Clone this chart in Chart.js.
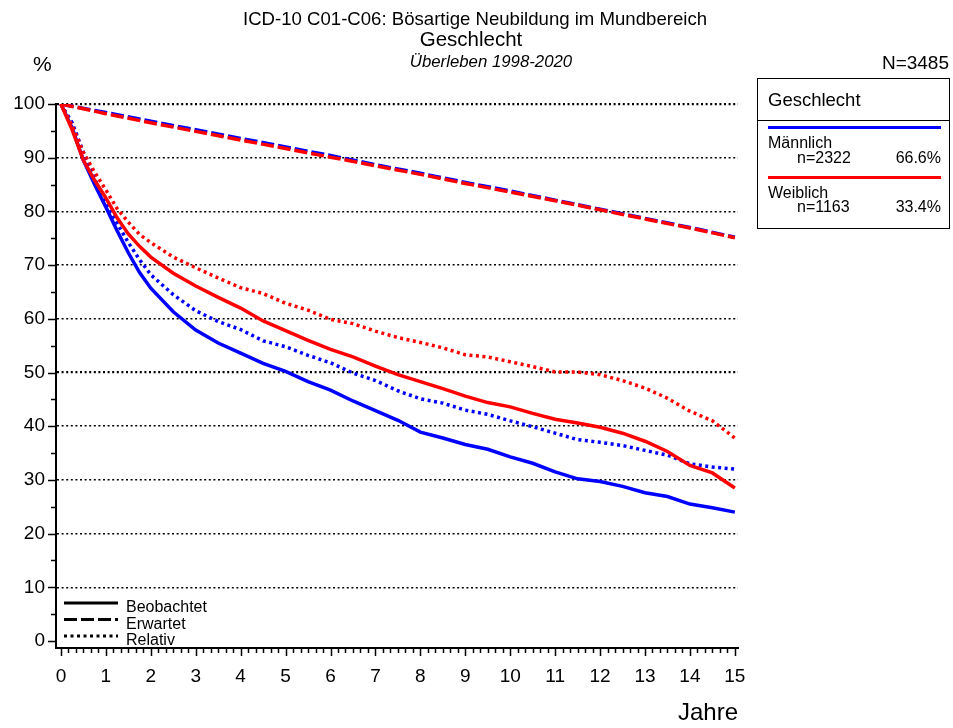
<!DOCTYPE html>
<html>
<head>
<meta charset="utf-8">
<script src="https://cdn.jsdelivr.net/npm/chart.js@4.4.0/dist/chart.umd.min.js"></script>
<style>
    body { margin: 0; background: #fff; font-family: "Liberation Sans", Arial, sans-serif; }
    #wrap { position: relative; width: 953px; height: 728px; }
    canvas { position: absolute; left: 0; top: 0; }
    .t { position: absolute; white-space: nowrap; color: #000; line-height: 1; }
    .c { transform: translateX(-50%); }
    #box { position: absolute; left: 757px; top: 78px; width: 193px; height: 151px; box-sizing: border-box; border: 1.5px solid #000; }
    #box .sep { position: absolute; left: 0; right: 0; top: 41px; border-top: 1.5px solid #000; }
    #box .bar { position: absolute; left: 10px; width: 173px; height: 3px; }
</style>
</head>
<body>
<div id="wrap">
    <canvas id="survivalChart" width="953" height="728"></canvas>

    <div class="t c" style="left:475px; top:10px; font-size:18.6px;">ICD-10 C01-C06: Bösartige Neubildung im Mundbereich</div>
    <div class="t c" style="left:471px; top:29px; font-size:20.5px;">Geschlecht</div>
    <div class="t c" style="left:491px; top:54px; font-size:16.8px; font-style:italic;">Überleben 1998-2020</div>
    <div class="t" style="left:33px; top:53px; font-size:21px;">%</div>
    <div class="t" style="right:4px; top:53px; font-size:19px;">N=3485</div>

    <div class="t" style="left:126px; top:599px; font-size:16px;">Beobachtet</div>
    <div class="t" style="left:126px; top:616px; font-size:16px;">Erwartet</div>
    <div class="t" style="left:126px; top:632px; font-size:16px;">Relativ</div>

    <div id="box">
        <div class="t" style="left:10px; top:12px; font-size:18.5px;">Geschlecht</div>
        <div class="sep"></div>
        <div class="bar" style="top:47px; background:#0000ff;"></div>
        <div class="t" style="left:10px; top:56px; font-size:16px;">Männlich</div>
        <div class="t" style="left:39px; top:71px; font-size:16px;">n=2322</div>
        <div class="t" style="right:8px; top:71px; font-size:16px;">66.6%</div>
        <div class="bar" style="top:97px; background:#ff0000;"></div>
        <div class="t" style="left:10px; top:106px; font-size:16px;">Weiblich</div>
        <div class="t" style="left:39px; top:120px; font-size:16px;">n=1163</div>
        <div class="t" style="right:8px; top:120px; font-size:16px;">33.4%</div>
    </div>
</div>

<script>
// Years since diagnosis (observed / relative curves)
const years = [0, 0.25, 0.5, 0.75, 1, 1.25, 1.5, 1.75, 2, 2.5, 3, 3.5, 4, 4.5, 5, 5.5, 6, 6.5,
               7, 7.5, 8, 8.5, 9, 9.5, 10, 10.5, 11, 11.5, 12, 12.5, 13, 13.5, 14, 14.5, 15];

// Männlich
const maleObserved = [100, 95.5, 89.5, 85, 80.8, 76.4, 72.3, 68.6, 65.7, 61.3, 57.9, 55.5, 53.6, 51.7, 50.2, 48.3, 46.7, 44.7,
                      42.9, 41.1, 38.9, 37.8, 36.6, 35.7, 34.3, 33.1, 31.5, 30.2, 29.7, 28.8, 27.6, 26.9, 25.5, 24.8, 24.0];
const maleRelative = [100, 96.5, 91, 86, 81.7, 77.8, 74.2, 71, 68.2, 64.5, 61.5, 59.5, 58, 55.9, 54.8, 53.2, 51.8, 49.9,
                      48.5, 46.6, 45.1, 44.3, 43, 42.2, 41, 39.9, 38.7, 37.5, 37, 36.4, 35.5, 34.6, 33, 32.4, 32];

// Weiblich
const femaleObserved = [100, 95.2, 89.5, 85.8, 82.5, 78.8, 75.8, 73.5, 71.5, 68.5, 66.1, 64.0, 62.0, 59.6, 57.8, 56.0, 54.3, 52.9,
                        51.2, 49.6, 48.3, 47.0, 45.6, 44.4, 43.6, 42.4, 41.3, 40.6, 39.8, 38.7, 37.2, 35.3, 32.7, 31.3, 28.5];
const femaleRelative = [100, 96, 91, 87.3, 84, 80.5, 78, 75.7, 74.2, 71.5, 69.5, 67.6, 65.8, 64.7, 62.9, 61.6, 59.9, 59.1,
                        57.7, 56.5, 55.6, 54.6, 53.3, 52.9, 52, 51.1, 50.1, 50.1, 49.6, 48.5, 47.1, 45.2, 42.8, 41, 37.8];

// Expected survival, whole years
const expectedYears = [0, 1, 2, 3, 4, 5, 6, 7, 8, 9, 10, 11, 12, 13, 14, 15];
const maleExpected = [100, 98.4, 96.8, 95.2, 93.6, 92.0, 90.4, 88.7, 87.1, 85.4, 83.8, 82.1, 80.4, 78.7, 77.0, 75.2];
const femaleExpected = [100, 98.2, 96.5, 94.9, 93.3, 91.7, 90.1, 88.5, 86.9, 85.2, 83.6, 82.0, 80.3, 78.6, 76.9, 75.1];

// Axis ticks
const xTickValues = [0, 1, 2, 3, 4, 5, 6, 7, 8, 9, 10, 11, 12, 13, 14, 15];
const yTickValues = [0, 10, 20, 30, 40, 50, 60, 70, 80, 90, 100];

const BLUE = '#0000ff';
const RED = '#ff0000';
const DASHED = [13, 4];
const DOTTED = [3, 3.5];

function toPoints(xs, ys) {
    return xs.map((x, i) => ({ x: x, y: ys[i] }));
}

function series(label, xs, ys, color, dash, order) {
    return {
        label: label,
        data: toPoints(xs, ys),
        borderColor: color,
        borderWidth: 3.5,
        borderDash: dash,
        borderCapStyle: 'butt',
        pointRadius: 0,
        tension: 0,
        fill: false,
        order: order
    };
}

// minor tick marks on both axes + line style key in the lower left corner
const axisExtras = {
    id: 'axisExtras',
    afterDraw(chart) {
        const { ctx, chartArea, scales: { x, y } } = chart;
        ctx.save();
        ctx.strokeStyle = '#000';
        ctx.lineWidth = 1.5;
        ctx.beginPath();
        for (let v = 0; v <= 100; v += 5) {
            const py = Math.round(y.getPixelForValue(v)) + 0.5;
            const len = v % 10 === 0 ? 8 : 5;
            ctx.moveTo(chartArea.left - len, py);
            ctx.lineTo(chartArea.left, py);
        }
        for (let i = 0; i <= 15 * 6; i++) {
            const px = Math.round(x.getPixelForValue(i / 6)) + 0.5;
            const len = i % 6 === 0 ? 8 : 5;
            ctx.moveTo(px, chartArea.bottom);
            ctx.lineTo(px, chartArea.bottom + len);
        }
        ctx.stroke();

        // key: Beobachtet / Erwartet / Relativ
        const keys = [[], DASHED, DOTTED];
        ctx.lineWidth = 3;
        keys.forEach((dash, i) => {
            const ky = 603 + i * 16.5;
            ctx.setLineDash(dash);
            ctx.beginPath();
            ctx.moveTo(64, ky);
            ctx.lineTo(118, ky);
            ctx.stroke();
        });
        ctx.restore();
    }
};

document.addEventListener('DOMContentLoaded', function() {
    const ctx = document.getElementById('survivalChart').getContext('2d');
    new Chart(ctx, {
        type: 'line',
        data: {
            datasets: [
                series('Männlich Beobachtet', years, maleObserved, BLUE, [], 4),
                series('Männlich Relativ', years, maleRelative, BLUE, DOTTED, 4),
                series('Männlich Erwartet', expectedYears, maleExpected, BLUE, DASHED, 3),
                series('Weiblich Beobachtet', years, femaleObserved, RED, [], 1),
                series('Weiblich Relativ', years, femaleRelative, RED, DOTTED, 1),
                series('Weiblich Erwartet', expectedYears, femaleExpected, RED, DASHED, 2)
            ]
        },
        options: {
            responsive: false,
            animation: false,
            layout: {
                padding: { top: 104, right: 215, left: 0, bottom: 0 }
            },
            plugins: {
                legend: { display: false },
                tooltip: { enabled: false }
            },
            scales: {
                x: {
                    type: 'linear',
                    min: -0.11,
                    max: 15.07,
                    afterBuildTicks: s => { s.ticks = xTickValues.map(v => ({ value: v })); },
                    afterFit: s => { s.height = 80; },
                    grid: { color: 'rgba(0,0,0,0)', drawTicks: false },
                    border: { display: true, color: '#000', width: 2 },
                    ticks: {
                        color: '#000',
                        font: { family: 'Liberation Sans', size: 19 },
                        padding: 17,
                        maxRotation: 0,
                        autoSkip: false
                    },
                    title: {
                        display: true,
                        text: 'Jahre',
                        align: 'end',
                        color: '#000',
                        font: { family: 'Liberation Sans', size: 24 },
                        padding: { top: 4, bottom: 0 }
                    }
                },
                y: {
                    type: 'linear',
                    min: -1.3,
                    max: 100,
                    afterBuildTicks: s => { s.ticks = yTickValues.map(v => ({ value: v })); },
                    afterFit: s => { s.width = 56; },
                    grid: {
                        drawTicks: false,
                        color: c => (c.tick && c.tick.value > 0) ? '#000' : 'rgba(0,0,0,0)',
                        lineWidth: c => (c.tick && (c.tick.value === 50 || c.tick.value === 100)) ? 2.2 : 1.6
                    },
                    border: { display: true, color: '#000', width: 2, dash: [2, 2.6] },
                    ticks: {
                        color: '#000',
                        font: { family: 'Liberation Sans', size: 19 },
                        padding: 11
                    }
                }
            }
        },
        plugins: [axisExtras]
    });
});
</script>
</body>
</html>
